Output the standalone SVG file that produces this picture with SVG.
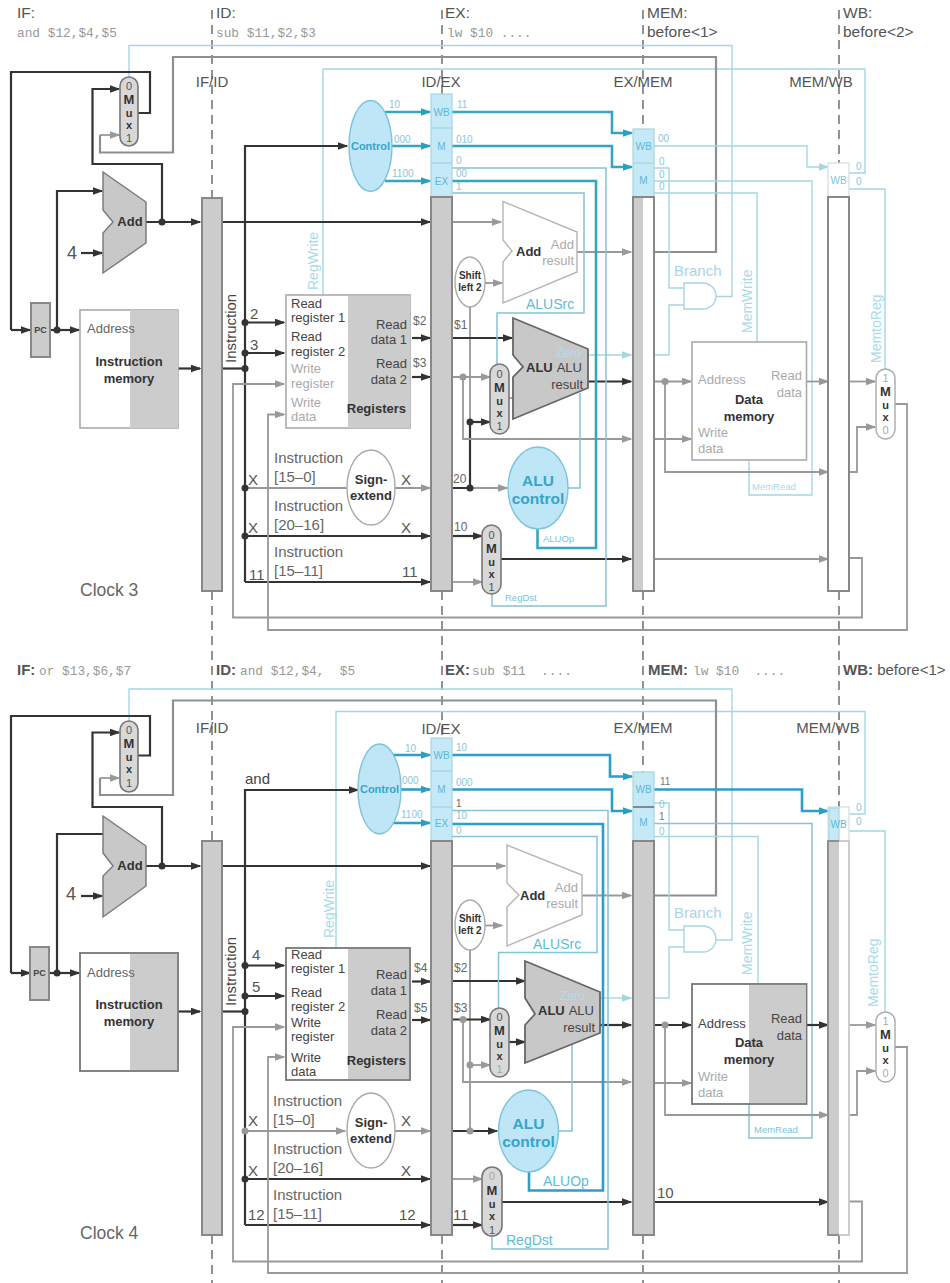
<svg xmlns="http://www.w3.org/2000/svg" width="950" height="1283" viewBox="0 0 950 1283">
<style>
text{font-family:"Liberation Sans",Arial,sans-serif;font-size:13px;fill:#444}
.w{fill:none;stroke-linejoin:miter}
.k{stroke:#333;stroke-width:2.2}
.g{stroke:#999;stroke-width:1.8}
.gd{stroke:#8f8f8f;stroke-width:2.2}
.l{stroke:#a6d6e2;stroke-width:1.4}
.t{stroke:#85c4d4;stroke-width:1.5}
.c{stroke:#35a5c0;stroke-width:2.6}
.c2{stroke:#2a9fcb;stroke-width:2.6}
.ak{marker-end:url(#ak)}.ag{marker-end:url(#ag)}.ac{marker-end:url(#ac)}.al{marker-end:url(#al)}
.dash{stroke:#777;stroke-width:1.6;stroke-dasharray:9 6;fill:none}
.dk{fill:#333}.dg{fill:#999}
.bar{stroke:#888;stroke-width:2;fill:#ccc}
.barw{stroke:#888;stroke-width:2;fill:#fff}
.hd{fill:#c6e9f8;stroke:#a6d6e2;stroke-width:1.2}
.hdw{fill:#fff;stroke:#cfdfe4;stroke-width:1.2}
.mux{fill:#d8d8d8;stroke:#777;stroke-width:1.6}
.muxw{fill:#fff;stroke:#aaa;stroke-width:1.4}
.unit{fill:#fff;stroke:#aaa;stroke-width:1.6}
.unitd{fill:#fff;stroke:#777;stroke-width:1.8}
.shade{fill:#ccc}
.alu{fill:#c8c8c8;stroke:#666;stroke-width:1.8}
.addw{fill:#fff;stroke:#b5b5b5;stroke-width:1.4}
.add{fill:#c8c8c8;stroke:#777;stroke-width:1.4}
.ell{fill:#fff;stroke:#aaa;stroke-width:1.4}
.ctl{fill:#bfe6f7;stroke:#7cc4dc;stroke-width:1.4}
.and{fill:#fff;stroke:#a6d6e2;stroke-width:1.4}
.hdr{font-size:15.5px;fill:#555}
.hb{font-size:15px;font-weight:bold;fill:#555}
.code{font-family:"Liberation Mono",monospace;font-size:12.8px;fill:#999}
.pl{font-size:15px;fill:#555;text-anchor:middle}
.b{font-weight:bold;fill:#333}
.mid{text-anchor:middle}
.end{text-anchor:end}
.lg{fill:#aaa}
.ins{font-size:15px;fill:#666}
.clk{font-size:17.5px;fill:#666}
.n{font-size:12px;fill:#666}
.n2{font-size:15px;fill:#555}
.big4{font-size:18px;fill:#555}
.rot{font-size:15px;fill:#444}
.tl{font-size:10px;fill:#8cc6d6}
.tb{font-size:10px;fill:#7cc4dc;text-anchor:middle}
.big{font-size:14px;fill:#7cc4d6}
.sm{font-size:9.5px;fill:#7cc4d6}
.ccc{font-size:15.5px;font-weight:bold;fill:#35a5cc;text-anchor:middle}
.ctext{font-size:11px;font-weight:bold;fill:#35a5cc;text-anchor:middle}
.zero{font-size:12px;fill:#b5dcec}
.m{font-size:11px;text-anchor:middle;fill:#555}
.mb{font-weight:bold;fill:#333}
.ml{fill:#aaa}
.sh{font-size:10px;font-weight:bold;fill:#333;text-anchor:middle}
.pc{font-size:9px;font-weight:bold;fill:#444;text-anchor:middle}
.wb{font-size:10px;fill:#5ab8d8;text-anchor:middle}
</style>
<defs>
<marker id="ak" markerUnits="userSpaceOnUse" markerWidth="12" markerHeight="9" refX="9.5" refY="4" orient="auto"><path d="M0 0L11 4L0 8z" fill="#333"/></marker>
<marker id="ag" markerUnits="userSpaceOnUse" markerWidth="12" markerHeight="9" refX="9.5" refY="4" orient="auto"><path d="M0 0L11 4L0 8z" fill="#999"/></marker>
<marker id="ac" markerUnits="userSpaceOnUse" markerWidth="12" markerHeight="9" refX="9.5" refY="4" orient="auto"><path d="M0 0L11 4L0 8z" fill="#2a9fc0"/></marker>
<marker id="al" markerUnits="userSpaceOnUse" markerWidth="12" markerHeight="9" refX="9.5" refY="4" orient="auto"><path d="M0 0L11 4L0 8z" fill="#a6d6e2"/></marker>
</defs>
<rect width="950" height="1283" fill="#fff"/>

<g id="stage-lines">
<path class="dash" d="M212 10V197M212 591V841M212 1235V1283"/>
<path class="dash" d="M442 10V94M442 591V738M442 1235V1283"/>
<path class="dash" d="M643 10V129M643 591V772M643 1235V1283"/>
<path class="dash" d="M839 10V163M839 591V807M839 1235V1283"/>
</g>

<g id="connectors">
<g id="connectors-clock3">
<path class="w l" d="M129 77V45.500H732V296.500H716"/>
<path class="w l" d="M323 295V69H865V173H849"/>
<path class="w gd" d="M654 252H716V57H173V152.500H100V135"/>
<path class="w g ag" d="M100 135H119"/>
<path class="w k" d="M138 113H150V72H11V330"/>
<path class="w k ak" d="M11 330H30"/>
<path class="w k ak" d="M50 330H79"/>
<path class="w k ak" d="M57 330V191H102"/>
<path class="w k ak" d="M146 222H200"/>
<path class="w k ak" d="M162 222V164H92.500V89H119"/>
<path class="w k ak" d="M81 253H102"/>
<path class="w k ak" d="M178 368.500H200"/>
<path class="w k ak" d="M222 222H430"/>
<path class="w k" d="M222 368.500H245"/>
<path class="w k ak" d="M245 582V146H347"/>
<path class="w k ak" d="M245 322.500H284"/>
<path class="w k ak" d="M245 353H284"/>
<path class="w k ak" d="M245 536H430"/>
<path class="w k ak" d="M245 582H430"/>
<path class="w k" d="M245 488H248"/>
<path class="w g" d="M248 488H347"/>
<path class="w g ag" d="M395 488H430"/>
<path class="w k ak" d="M412 338H430"/>
<path class="w k ak" d="M412 377H430"/>
<path class="w g ag" d="M849 558H862V617.500H233V384H284"/>
<path class="w g ag" d="M895 404H907V630H268V414.500H284"/>
<path class="w g ag" d="M452 222H501"/>
<path class="w g ag" d="M577 252H631"/>
<path class="w g ag" d="M485 283H502"/>
<path class="w g" d="M470 307V421"/>
<path class="w k" d="M452 488H470V422"/>
<path class="w k ak" d="M470 422H490"/>
<path class="w g ag" d="M470 488H507"/>
<path class="w k ak" d="M452 536H482"/>
<path class="w g ag" d="M452 582H482"/>
<path class="w k ak" d="M452 338H512"/>
<path class="w g ag" d="M452 377H490"/>
<path class="w g ag" d="M463 377V439H631"/>
<path class="w g" d="M509 398H513"/>
<path class="w l al" d="M588 355H631"/>
<path class="w l" d="M654 168H669V288H684M654 355H669V305H684"/>
<path class="w l" d="M654 193H757V342"/>
<path class="w l" d="M654 181H812V495H749V461"/>
<path class="w k ak" d="M588 381.500H631"/>
<path class="w g ag" d="M654 381.500H691"/>
<path class="w g ag" d="M665 381.500V472H828"/>
<path class="w g ag" d="M654 439H691"/>
<path class="w g ag" d="M806 381.500H828"/>
<path class="w g ag" d="M849 381.500H875"/>
<path class="w g ag" d="M849 472H857V427H875"/>
<path class="w k ak" d="M501 559H631"/>
<path class="w g ag" d="M654 559H828"/>
<path class="w t" d="M568 488H580V393"/>
<path class="w t" d="M452 193H584V313H497V364"/>
<path class="w t" d="M452 168H606V606H492V594"/>
<path class="w c" d="M452 181H596V548H537.500V529"/>
<path class="w c ac" d="M452 112H612V133H632"/>
<path class="w c ac" d="M452 146H612V167H632"/>
<path class="w c ac" d="M385 112H430"/>
<path class="w c ac" d="M392 146H430"/>
<path class="w c ac" d="M385 181H430"/>
<path class="w l al" d="M654 146H807V167H828"/>
<path class="w l" d="M849 189H885V369"/>
<circle class="dk" cx="57" cy="330" r="3.500"/><circle class="dk" cx="162" cy="222" r="3.500"/>
<circle class="dk" cx="245" cy="322.500" r="3.500"/><circle class="dk" cx="245" cy="353" r="3.500"/><circle class="dk" cx="245" cy="368.500" r="3.500"/><circle class="dk" cx="245" cy="488" r="3.500"/><circle class="dk" cx="245" cy="536" r="3.500"/>
<circle class="dk" cx="470" cy="422" r="3.500"/><circle class="dk" cx="470" cy="488" r="3.500"/>
<circle class="dg" cx="463" cy="377" r="3.500"/><circle class="dg" cx="665" cy="381.500" r="3.500"/>
</g>
<g id="connectors-clock4">
<path class="w l" d="M129 721V689H732V940H716"/>
<path class="w l" d="M336 947V711.500H865V814H849"/>
<path class="w gd" d="M654 895.500H716V700.500H173V795H100V778"/>
<path class="w g ag" d="M100 778H119"/>
<path class="w k" d="M138 755.500H150V716H11V973"/>
<path class="w k ak" d="M11 973H30"/>
<path class="w k ak" d="M49 973H79"/>
<path class="w k" d="M57 973V834H103"/>
<path class="w k ak" d="M146 866H200"/>
<path class="w k ak" d="M162 866V807H92.500V732.500H119"/>
<path class="w k ak" d="M81 896H102"/>
<path class="w k ak" d="M178 1011.500H200"/>
<path class="w k ak" d="M222 866H430"/>
<path class="w k" d="M222 1011.500H245"/>
<path class="w k ak" d="M245 1225V790H358"/>
<path class="w k ak" d="M245 965.500H284"/>
<path class="w k ak" d="M245 996H284"/>
<path class="w k ak" d="M245 1179H430"/>
<path class="w k ak" d="M245 1225H430"/>
<path class="w g ag" d="M245 1131H345"/>
<path class="w g ag" d="M395 1131H430"/>
<path class="w k ak" d="M412 981.500H430"/>
<path class="w k ak" d="M412 1020H430"/>
<path class="w g ag" d="M849 1201.500H862V1261.500H233V1027H284"/>
<path class="w g ag" d="M895 1047H907V1273H268V1057H284"/>
<path class="w g ag" d="M452 866H505"/>
<path class="w g ag" d="M582 895.500H631"/>
<path class="w g ag" d="M485 925.500H502"/>
<path class="w g" d="M470 950V1131"/>
<path class="w g ag" d="M470 1065H490"/>
<path class="w k ak" d="M452 1131H497"/>
<path class="w g ag" d="M452 1179H482"/>
<path class="w k ak" d="M452 1225H482"/>
<path class="w k ak" d="M452 981H525"/>
<path class="w k ak" d="M452 1019.500H490"/>
<path class="w g ag" d="M463 1019.500V1082H631"/>
<path class="w k ak" d="M509 1042H525"/>
<path class="w l al" d="M600 998H631"/>
<path class="w l" d="M654 803H669V930H684M654 998H669V947H684"/>
<path class="w l" d="M654 836.500H758V984"/>
<path class="w t" d="M654 823.500H812V1138H749V1104"/>
<path class="w k ak" d="M600 1025H631"/>
<path class="w k ak" d="M654 1025H691"/>
<path class="w g ag" d="M665 1025V1115H828"/>
<path class="w g ag" d="M654 1083H691"/>
<path class="w k ak" d="M806 1025H828"/>
<path class="w g ag" d="M849 1025H875"/>
<path class="w g ag" d="M849 1115H857V1071H875"/>
<path class="w k ak" d="M502 1202H631"/>
<path class="w k ak" d="M654 1202H828"/>
<path class="w t" d="M558 1131H572V1043"/>
<path class="w t" d="M452 836.500H597V952.500H498.500V1008"/>
<path class="w t" d="M452 810.500H608V1249H492V1236"/>
<path class="w c2" d="M452 824H603V1190.500H529V1172"/>
<path class="w c2 ac" d="M452 755H610V776.500H632"/>
<path class="w c2 ac" d="M452 789.500H612V811H632"/>
<path class="w c2 ac" d="M393 755H430"/>
<path class="w c2 ac" d="M401 789.500H430"/>
<path class="w c2 ac" d="M393 823H430"/>
<path class="w c2 ac" d="M654 789.500H802V811H828"/>
<path class="w l" d="M849 831H885V1011.500"/>
<circle class="dk" cx="162" cy="866" r="3.500"/><circle class="dk" cx="57" cy="973" r="3.500"/>
<circle class="dk" cx="245" cy="965.500" r="3.500"/><circle class="dk" cx="245" cy="996" r="3.500"/><circle class="dk" cx="245" cy="1011.500" r="3.500"/><circle class="dg" cx="245" cy="1131" r="3.500"/><circle class="dk" cx="245" cy="1179" r="3.500"/>
<circle class="dg" cx="470" cy="1065" r="3.500"/><circle class="dg" cx="470" cy="1131" r="3.500"/>
<circle class="dg" cx="463" cy="1019.500" r="3.500"/><circle class="dg" cx="665" cy="1025" r="3.500"/>
</g>
</g>

<g id="c3-mux-pc"><rect class="mux" x="120" y="77" width="18" height="69" rx="9"/><text class="m" x="129" y="90">0<tspan class="mb" x="129" dy="14" font-size="13">M</tspan><tspan class="mb" x="129" dy="13">u</tspan><tspan class="mb" x="129" dy="12">x</tspan><tspan x="129" dy="13">1</tspan></text></g>
<g id="c3-add-pc"><path class="add" d="M103 172L146 202V243L103 273V233L113 222L103 210Z"/><text class="b mid" x="130" y="226">Add</text></g>
<g id="c3-pc"><rect class="bar" x="31" y="303" width="19" height="54"/><text class="pc" x="40.500" y="333">PC</text></g>
<g id="c3-imem"><rect class="unit" x="80" y="310" width="98" height="118"/><rect class="shade" x="130" y="310" width="48" height="118"/><text x="87" y="333" style="fill:#666">Address</text><text class="b mid" x="129" y="366">Instruction</text><text class="b mid" x="129" y="383">memory</text></g>
<g id="c3-ifid"><rect class="bar" x="202" y="198" width="20" height="393"/><text class="pl" x="212" y="87">IF/ID</text></g>
<g id="c3-idex"><rect class="hd" x="431" y="94" width="21" height="103"/><path class="w l" d="M431 128H452M431 163H452"/><rect class="bar" x="431" y="197" width="21" height="394"/><text class="wb" x="441.500" y="116">WB</text><text class="wb" x="441.500" y="150">M</text><text class="wb" x="441.500" y="185">EX</text><text class="pl" x="441" y="87">ID/EX</text></g>
<g id="c3-exmem"><rect class="hd" x="633" y="129" width="21" height="68"/><path class="w l" d="M633 163H654"/><rect class="barw" x="633" y="197" width="21" height="394"/><rect class="shade" x="634" y="198" width="9" height="392"/><text class="wb" x="643.500" y="150">WB</text><text class="wb" x="643.500" y="184">M</text><text class="pl" x="643" y="87">EX/MEM</text></g>
<g id="c3-memwb"><rect class="hdw" x="828" y="163" width="21" height="34"/><rect class="barw" x="828" y="197" width="21" height="394"/><text class="tb" x="838.500" y="184">WB</text><text class="pl" x="821" y="87">MEM/WB</text></g>
<g id="c3-control"><ellipse class="ctl" cx="370.500" cy="146" rx="21.500" ry="45.500"/><text class="ctext" x="370.500" y="150">Control</text></g>
<g id="c3-registers"><rect class="unit" x="286" y="295" width="124" height="133"/><rect class="shade" x="348" y="296" width="62" height="132"/><text x="291" y="308">Read</text><text x="291" y="322">register 1</text><text x="291" y="341">Read</text><text x="291" y="356">register 2</text><text class="lg" x="291" y="373">Write</text><text class="lg" x="291" y="388">register</text><text class="lg" x="291" y="407">Write</text><text class="lg" x="291" y="421">data</text><text class="end" x="407" y="329">Read</text><text class="end" x="407" y="344">data 1</text><text class="end" x="407" y="368">Read</text><text class="end" x="407" y="384">data 2</text><text class="b end" x="406" y="413">Registers</text></g>
<g id="c3-sign"><ellipse class="ell" cx="371" cy="487.500" rx="24" ry="37.500"/><text class="b mid" x="371" y="484">Sign-</text><text class="b mid" x="371" y="500">extend</text></g>
<g id="c3-add2"><path class="addw" d="M503 201.500L577 232V272L503 303V262L512 251L503 240Z"/><text class="b" x="516" y="256">Add</text><text class="end lg" x="574" y="249">Add</text><text class="end lg" x="574" y="265">result</text></g>
<g id="c3-shift"><ellipse class="ell" cx="470" cy="282" rx="15" ry="25"/><text class="sh" x="470" y="279">Shift</text><text class="sh" x="470" y="291">left 2</text></g>
<g id="c3-alu"><path class="alu" d="M513 318L588 349V388L513 419V377L523 367L513 355Z"/><text class="b" x="526" y="372">ALU</text><text class="end" x="582" y="372">ALU</text><text class="end" x="583" y="389">result</text><text class="zero" x="556" y="357">Zero</text></g>
<g id="c3-mux-alu"><rect class="mux" x="490" y="364" width="19" height="70" rx="9.500"/><text class="m" x="499.500" y="378">0<tspan class="mb" x="499.500" dy="14" font-size="13">M</tspan><tspan class="mb" x="499.500" dy="13">u</tspan><tspan class="mb" x="499.500" dy="12">x</tspan><tspan x="499.500" dy="13">1</tspan></text></g>
<g id="c3-alucontrol"><ellipse class="ctl" cx="538" cy="488" rx="30" ry="41"/><text class="ccc" x="538" y="486">ALU</text><text class="ccc" x="538" y="504">control</text></g>
<g id="c3-mux-dst"><rect class="mux" x="482" y="525" width="19" height="69" rx="9.500"/><text class="m" x="491.500" y="539">0<tspan class="mb" x="491.500" dy="14" font-size="13">M</tspan><tspan class="mb" x="491.500" dy="13">u</tspan><tspan class="mb" x="491.500" dy="12">x</tspan><tspan x="491.500" dy="13">1</tspan></text></g>
<g id="c3-and"><path class="and" d="M684 283H703A13 13 0 0 1 703 309H684Z"/></g>
<g id="c3-dmem"><rect class="unit" x="692" y="342" width="114.500" height="118"/><text class="lg" x="698" y="384">Address</text><text class="end lg" x="802" y="380">Read</text><text class="end lg" x="802" y="397">data</text><text class="b mid" x="749" y="404">Data</text><text class="b mid" x="749" y="421">memory</text><text class="lg" x="698" y="437">Write</text><text class="lg" x="698" y="453">data</text></g>
<g id="c3-mux-wb"><rect class="muxw" x="876" y="369" width="19" height="70" rx="9.500"/><text class="m" x="885.500" y="382"><tspan class="ml">1</tspan><tspan class="mb" x="885.500" dy="14" font-size="13">M</tspan><tspan class="mb" x="885.500" dy="13">u</tspan><tspan class="mb" x="885.500" dy="12">x</tspan><tspan class="ml" x="885.500" dy="13">0</tspan></text></g>
<g id="c3-labels">
<text class="hdr" x="17" y="18">IF:</text><text class="code" x="17" y="37">and $12,$4,$5</text>
<text class="hdr" x="216" y="18">ID:</text><text class="code" x="216" y="37">sub $11,$2,$3</text>
<text class="hdr" x="445" y="18">EX:</text><text class="code" x="447" y="37">lw $10 ....</text>
<text class="hdr" x="647" y="18">MEM:</text><text class="hdr" x="647" y="37">before&lt;1&gt;</text>
<text class="hdr" x="843" y="18">WB:</text><text class="hdr" x="843" y="37">before&lt;2&gt;</text>
<text class="big4" x="67" y="259">4</text>
<text class="rot" x="236" y="363" transform="rotate(-90 236 363)">Instruction</text>
<text class="n2" x="250" y="319">2</text><text class="n2" x="250" y="350">3</text>
<text class="n" x="413" y="325">$2</text><text class="n" x="413" y="367">$3</text><text class="n" x="454" y="329">$1</text>
<text class="ins" x="274" y="463">Instruction</text><text class="ins" x="274" y="482">[15–0]</text>
<text class="ins" x="274" y="511">Instruction</text><text class="ins" x="274" y="530">[20–16]</text>
<text class="ins" x="274" y="557">Instruction</text><text class="ins" x="274" y="576">[15–11]</text>
<text class="n2" x="248" y="485">X</text><text class="n2" x="401" y="485">X</text><text class="n2" x="248" y="533">X</text><text class="n2" x="401" y="533">X</text>
<text class="n2" x="249" y="580">11</text><text class="n2" x="402" y="577">11</text>
<text class="n" x="453" y="483">20</text><text class="n" x="454" y="531">10</text>
<text class="clk" x="80" y="596">Clock 3</text>
<text class="tl" x="389" y="108">10</text><text class="tl" x="394" y="143">000</text><text class="tl" x="392" y="177">1100</text>
<text class="tl" x="457" y="108">11</text><text class="tl" x="456" y="143">010</text><text class="tl" x="456" y="164">0</text><text class="tl" x="456" y="177">00</text><text class="tl" x="456" y="190">1</text>
<text class="tl" x="658" y="142">00</text><text class="tl" x="659" y="165">0</text><text class="tl" x="659" y="178">0</text><text class="tl" x="659" y="190">0</text>
<text class="tl" x="856" y="170">0</text><text class="tl" x="856" y="185">0</text>
<text class="big" x="318" y="290" transform="rotate(-90 318 290)" style="fill:#a8dbe8">RegWrite</text>
<text class="big" x="752" y="333" transform="rotate(-90 752 333)" style="fill:#a8dbe8">MemWrite</text>
<text class="big" x="881" y="363" transform="rotate(-90 881 363)" style="fill:#a8dbe8">MemtoReg</text>
<text class="big" x="674" y="276" style="font-size:15px;fill:#a8d5e8">Branch</text>
<text class="big" x="526" y="309" style="fill:#5cbdd4">ALUSrc</text>
<text class="sm" x="543" y="542">ALUOp</text><text class="sm" x="505" y="601">RegDst</text><text class="sm" x="752" y="490" style="fill:#a8dbe8">MemRead</text>
</g>

<g id="c4-mux-pc"><rect class="mux" x="120" y="721" width="18" height="71" rx="9"/><text class="m" x="129" y="734">0<tspan class="mb" x="129" dy="14" font-size="13">M</tspan><tspan class="mb" x="129" dy="13">u</tspan><tspan class="mb" x="129" dy="12">x</tspan><tspan x="129" dy="14">1</tspan></text></g>
<g id="c4-add-pc"><path class="add" d="M103 816L146 846V886L103 917V876L113 866L103 853Z"/><text class="b mid" x="130" y="870">Add</text></g>
<g id="c4-pc"><rect class="bar" x="30" y="947" width="19" height="53"/><text class="pc" x="39.500" y="976">PC</text></g>
<g id="c4-imem"><rect class="unitd" x="80" y="953" width="98" height="118"/><rect class="shade" x="130" y="954" width="47" height="116"/><text x="87" y="977" style="fill:#666">Address</text><text class="b mid" x="129" y="1009">Instruction</text><text class="b mid" x="129" y="1026">memory</text></g>
<g id="c4-ifid"><rect class="bar" x="202" y="841" width="20" height="394"/><text class="pl" x="212" y="733">IF/ID</text></g>
<g id="c4-idex"><rect class="hd" x="431" y="738" width="21" height="103"/><path class="w l" d="M431 771H452M431 807H452"/><rect class="bar" x="431" y="841" width="21" height="394"/><text class="wb" x="441.500" y="759">WB</text><text class="wb" x="441.500" y="793">M</text><text class="wb" x="441.500" y="827">EX</text><text class="pl" x="441" y="734">ID/EX</text></g>
<g id="c4-exmem"><rect class="hd" x="633" y="772" width="21" height="69"/><path class="w k" style="stroke-width:1" d="M633 807H654"/><rect class="bar" x="633" y="841" width="21" height="394"/><text class="wb" x="643.500" y="793">WB</text><text class="wb" x="643.500" y="826">M</text><text class="pl" x="643" y="733">EX/MEM</text></g>
<g id="c4-memwb"><rect class="hdw" x="828" y="807" width="21" height="34"/><rect class="hd" x="829" y="808" width="10" height="33"/><rect x="828" y="841" width="21" height="394" fill="#fff" stroke="#ccc" stroke-width="2"/><rect class="shade" x="828" y="841" width="11" height="394"/><path class="w gd" style="stroke-width:2" d="M839 841H828V1235H839"/><text class="wb" x="838.500" y="828">WB</text><text class="pl" x="828" y="733">MEM/WB</text></g>
<g id="c4-control"><ellipse class="ctl" cx="379.500" cy="789" rx="21.500" ry="45"/><text class="ctext" x="379.500" y="793">Control</text></g>
<g id="c4-registers"><rect class="unitd" x="286" y="948" width="124" height="132"/><rect class="shade" x="348" y="949" width="61" height="130"/><text x="291" y="959">Read</text><text x="291" y="973">register 1</text><text x="291" y="997">Read</text><text x="291" y="1011">register 2</text><text x="291" y="1027">Write</text><text x="291" y="1041">register</text><text x="291" y="1062">Write</text><text x="291" y="1076">data</text><text class="end" x="407" y="979">Read</text><text class="end" x="407" y="995">data 1</text><text class="end" x="407" y="1019">Read</text><text class="end" x="407" y="1035">data 2</text><text class="b end" x="406" y="1065">Registers</text></g>
<g id="c4-sign"><ellipse class="ell" cx="371" cy="1130.500" rx="24" ry="37.500"/><text class="b mid" x="371" y="1127">Sign-</text><text class="b mid" x="371" y="1143">extend</text></g>
<g id="c4-add2"><path class="addw" d="M507 845L582 875V915L507 946V907L519 895L507 883Z"/><text class="b" x="520" y="900">Add</text><text class="end lg" x="578" y="892">Add</text><text class="end lg" x="578" y="908">result</text></g>
<g id="c4-shift"><ellipse class="ell" cx="470" cy="925" rx="15" ry="25"/><text class="sh" x="470" y="922">Shift</text><text class="sh" x="470" y="934">left 2</text></g>
<g id="c4-alu"><path class="alu" d="M525 961L600 992V1033L525 1063V1025L535 1014L525 998Z"/><text class="b" x="538" y="1015">ALU</text><text class="end" x="594" y="1015">ALU</text><text class="end" x="595" y="1032">result</text><text class="zero" x="560" y="1000">Zero</text></g>
<g id="c4-mux-alu"><rect class="mux" x="490" y="1008" width="19" height="69" rx="9.500"/><text class="m" x="499.500" y="1021">0<tspan class="mb" x="499.500" dy="14" font-size="13">M</tspan><tspan class="mb" x="499.500" dy="13">u</tspan><tspan class="mb" x="499.500" dy="12">x</tspan><tspan class="ml" x="499.500" dy="13">1</tspan></text></g>
<g id="c4-alucontrol"><ellipse class="ctl" cx="528.500" cy="1131" rx="30" ry="41"/><text class="ccc" x="528.500" y="1129">ALU</text><text class="ccc" x="528.500" y="1147">control</text></g>
<g id="c4-mux-dst"><rect class="mux" x="482" y="1167" width="20" height="69" rx="10"/><text class="m" x="492" y="1180"><tspan class="ml">0</tspan><tspan class="mb" x="492" dy="15" font-size="13">M</tspan><tspan class="mb" x="492" dy="13">u</tspan><tspan class="mb" x="492" dy="12">x</tspan><tspan x="492" dy="14">1</tspan></text></g>
<g id="c4-and"><path class="and" d="M684 926H703A13 13 0 0 1 703 952H684Z"/></g>
<g id="c4-dmem"><rect class="unitd" x="692" y="984" width="114.500" height="120"/><rect class="shade" x="749" y="985" width="56.500" height="118"/><text x="698" y="1028">Address</text><text class="end" x="802" y="1023">Read</text><text class="end" x="802" y="1040">data</text><text class="b mid" x="749" y="1047">Data</text><text class="b mid" x="749" y="1064">memory</text><text class="lg" x="698" y="1081">Write</text><text class="lg" x="698" y="1097">data</text></g>
<g id="c4-mux-wb"><rect class="muxw" x="876" y="1012" width="19" height="70" rx="9.500"/><text class="m" x="885.500" y="1025"><tspan class="ml">1</tspan><tspan class="mb" x="885.500" dy="14" font-size="13">M</tspan><tspan class="mb" x="885.500" dy="13">u</tspan><tspan class="mb" x="885.500" dy="12">x</tspan><tspan class="ml" x="885.500" dy="13">0</tspan></text></g>
<g id="c4-labels">
<text class="hb" x="17" y="675">IF:</text><text class="code" x="39" y="675">or $13,$6,$7</text>
<text class="hb" x="216" y="675">ID:</text><text class="code" x="240" y="675" xml:space="preserve">and $12,$4,  $5</text>
<text class="hb" x="445" y="675">EX:</text><text class="code" x="472" y="675" xml:space="preserve">sub $11  ....</text>
<text class="hb" x="648" y="675">MEM:</text><text class="code" x="693" y="675" xml:space="preserve">lw $10  ....</text>
<text class="hb" x="843" y="675">WB: <tspan font-weight="normal">before&lt;1&gt;</tspan></text>
<text class="big4" x="66" y="900">4</text>
<text class="rot" x="236" y="1006" transform="rotate(-90 236 1006)">Instruction</text>
<text class="ins" x="245" y="784" style="fill:#444">and</text>
<text class="n2" x="252" y="960">4</text><text class="n2" x="252" y="992">5</text>
<text class="n" x="414" y="972">$4</text><text class="n" x="414" y="1012">$5</text><text class="n" x="454" y="972">$2</text><text class="n" x="454" y="1012">$3</text>
<text class="ins" x="273" y="1106">Instruction</text><text class="ins" x="273" y="1125">[15–0]</text>
<text class="ins" x="273" y="1154">Instruction</text><text class="ins" x="273" y="1173">[20–16]</text>
<text class="ins" x="273" y="1200">Instruction</text><text class="ins" x="273" y="1219">[15–11]</text>
<text class="n2" x="248" y="1126">X</text><text class="n2" x="401" y="1126">X</text><text class="n2" x="248" y="1176">X</text><text class="n2" x="401" y="1176">X</text>
<text class="n2" x="248" y="1220">12</text><text class="n2" x="399" y="1220">12</text>
<text class="n2" x="453" y="1220">11</text><text class="n2" x="657" y="1198">10</text>
<text class="clk" x="80" y="1239">Clock 4</text>
<text class="tl" x="405" y="752">10</text><text class="tl" x="402" y="784">000</text><text class="tl" x="401" y="818">1100</text>
<text class="tl" x="456" y="751">10</text><text class="tl" x="456" y="786">000</text><text class="tl" x="456" y="807" style="fill:#666">1</text><text class="tl" x="456" y="819">10</text><text class="tl" x="456" y="834">0</text>
<text class="tl" x="660" y="785" style="fill:#777">11</text><text class="tl" x="659" y="808">0</text><text class="tl" x="659" y="820" style="fill:#777">1</text><text class="tl" x="659" y="835">0</text>
<text class="tl" x="856" y="811">0</text><text class="tl" x="856" y="825">0</text>
<text class="big" x="334" y="938" transform="rotate(-90 334 938)" style="fill:#a8dbe8">RegWrite</text>
<text class="big" x="752" y="975" transform="rotate(-90 752 975)" style="fill:#a8dbe8">MemWrite</text>
<text class="big" x="878" y="1007" transform="rotate(-90 878 1007)" style="fill:#a8dbe8">MemtoReg</text>
<text class="big" x="674" y="918" style="font-size:15px;fill:#a8d5e8">Branch</text>
<text class="big" x="533" y="949" style="fill:#5cbdd4">ALUSrc</text>
<text class="big" x="543" y="1186" style="fill:#5cbdd4">ALUOp</text><text class="big" x="506" y="1245" style="fill:#5cbdd4">RegDst</text><text class="sm" x="754" y="1133">MemRead</text>
</g>
</svg>
